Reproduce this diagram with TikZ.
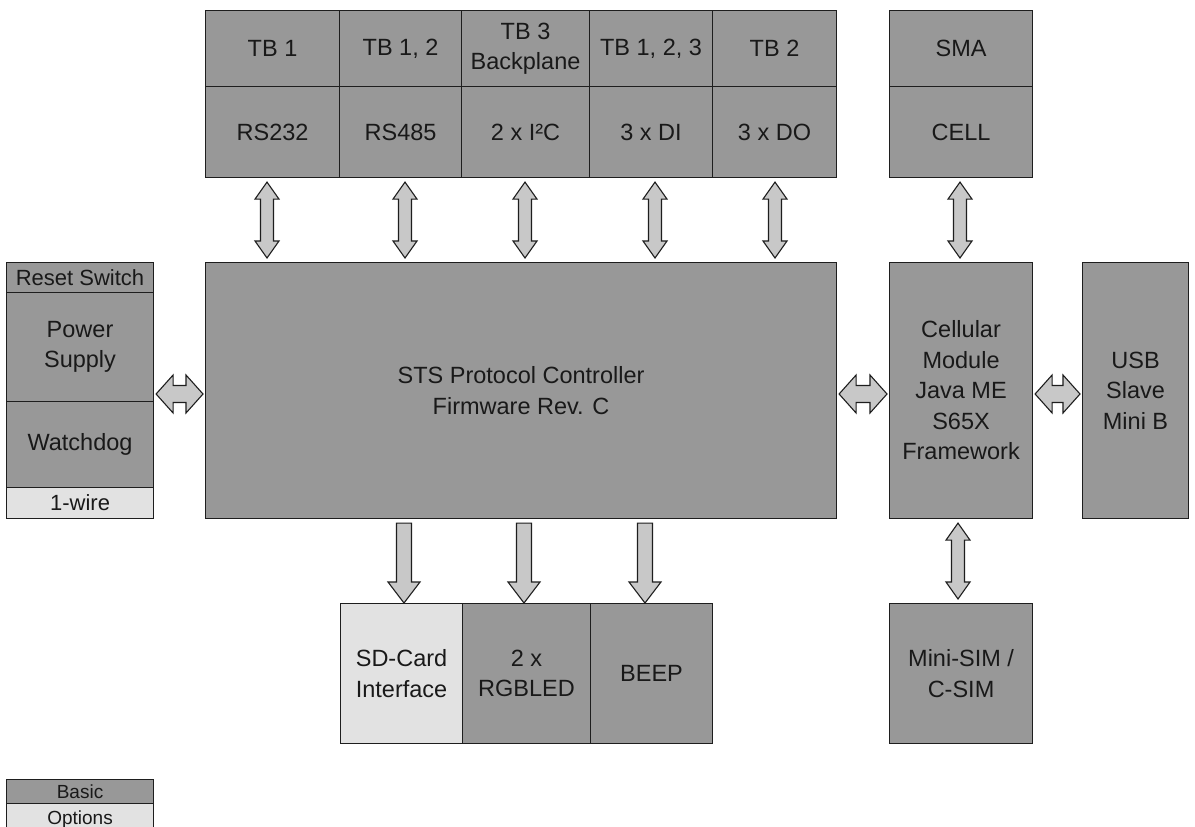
\documentclass[tikz,border=0pt]{standalone}
\usepackage{fontspec}
\setmainfont{Liberation Sans}
\usetikzlibrary{calc}
\definecolor{boxgray}{RGB}{152,152,152}
\definecolor{optgray}{RGB}{226,226,226}
\definecolor{arrowgray}{RGB}{200,200,200}
\definecolor{linegray}{RGB}{30,30,30}
\definecolor{textgray}{RGB}{25,25,25}
\tikzset{
 box/.style={draw=linegray, line width=1.1pt, fill=boxgray, inner sep=0pt, align=center, anchor=north west, text=textgray, font=\fontsize{23.5}{30.5}\selectfont},
 optbox/.style={box, fill=optgray},
 legbox/.style={font=\fontsize{19}{21}\selectfont},
 barrow/.style={draw=linegray, line width=1.1pt, fill=arrowgray, line join=miter},
}
\newcommand\vdarrow[3]{%
 \draw[barrow] let \p1=(#2), \p2=(#3), \p3=(#1,0) in
 (\x3,\y1-4pt) -- (\x3+12pt,\y1-21pt) -- (\x3+6.5pt,\y1-21pt) -- (\x3+6.5pt,\y2+21pt) -- (\x3+12pt,\y2+21pt) -- (\x3,\y2+4pt) -- (\x3-12pt,\y2+21pt) -- (\x3-6.5pt,\y2+21pt) -- (\x3-6.5pt,\y1-21pt) -- (\x3-12pt,\y1-21pt) -- cycle;}
\newcommand\hdarrow[3]{%
 \draw[barrow] let \p1=(#2), \p2=(#3), \p3=(0,#1) in
 (\x1+2pt,\y3) -- (\x1+19pt,\y3+19pt) -- (\x1+19pt,\y3+8.5pt) -- (\x2-19pt,\y3+8.5pt) -- (\x2-19pt,\y3+19pt) -- (\x2-2pt,\y3) -- (\x2-19pt,\y3-19pt) -- (\x2-19pt,\y3-8.5pt) -- (\x1+19pt,\y3-8.5pt) -- (\x1+19pt,\y3-19pt) -- cycle;}
\newcommand\sdarrow[3]{%
 \draw[barrow] let \p1=(#2), \p2=(#3), \p3=(#1,0) in
 (\x3-7.5pt,\y1-4pt) -- (\x3+7.5pt,\y1-4pt) -- (\x3+7.5pt,\y2+21pt) -- (\x3+16pt,\y2+21pt) -- (\x3,\y2) -- (\x3-16pt,\y2+21pt) -- (\x3-7.5pt,\y2+21pt) -- cycle;}
\begin{document}
\begin{tikzpicture}[x=1pt,y=-1pt]
\useasboundingbox[fill=white] (0,0) rectangle (1195,827);
% top table
\node[box, minimum width=134, minimum height=76] (tb1) at (205,10) {TB 1};
\node[box, minimum width=122, minimum height=76] (tb12) at (339,10) {TB 1, 2};
\node[box, minimum width=128, minimum height=76] (tb3) at (461,10) {TB 3\\Backplane};
\node[box, minimum width=123, minimum height=76] (tb123) at (589,10) {TB 1, 2, 3};
\node[box, minimum width=124, minimum height=76] (tb2) at (712,10) {TB 2};
\node[box, minimum width=134, minimum height=91] (rs232) at (205,86) {RS232};
\node[box, minimum width=122, minimum height=91] (rs485) at (339,86) {RS485};
\node[box, minimum width=128, minimum height=91] (i2c) at (461,86) {2 x I²C};
\node[box, minimum width=123, minimum height=91] (di) at (589,86) {3 x DI};
\node[box, minimum width=124, minimum height=91] (do) at (712,86) {3 x DO};
\node[box, minimum width=143, minimum height=76] (sma) at (889,10) {SMA};
\node[box, minimum width=143, minimum height=91] (cell) at (889,86) {CELL};
% middle
\node[box, minimum width=631, minimum height=256] (ctrl) at (205,262) {STS Protocol Controller\\Firmware Rev. C};
\node[box, font=\fontsize{22}{26}\selectfont, minimum width=147, minimum height=30] (reset) at (6,262) {Reset Switch};
\node[box, minimum width=147, minimum height=109] (power) at (6,292) {Power\\Supply};
\node[box, minimum width=147, minimum height=86] (watchdog) at (6,401) {Watchdog};
\node[optbox, font=\fontsize{22}{26}\selectfont, minimum width=147, minimum height=31] (onewire) at (6,487) {1-wire};
\node[box, minimum width=143, minimum height=256] (cellular) at (889,262) {Cellular\\Module\\Java ME\\S65X\\Framework};
\node[box, minimum width=106, minimum height=256] (usb) at (1082,262) {USB\\Slave\\Mini B};
% bottom
\node[optbox, minimum width=122, minimum height=140] (sd) at (340,603) {SD-Card\\Interface};
\node[box, minimum width=128, minimum height=140] (rgb) at (462,603) {2 x\\RGBLED};
\node[box, minimum width=122, minimum height=140] (beep) at (590,603) {BEEP};
\node[box, minimum width=143, minimum height=140] (sim) at (889,603) {Mini-SIM /\\C-SIM};
% legend
\node[box, legbox, minimum width=147, minimum height=24] (basic) at (6,779) {Basic};
\node[optbox, legbox, minimum width=147, minimum height=32] (options) at (6,803) {Options};
% arrows
\vdarrow{267}{rs232.south}{ctrl.north}
\vdarrow{405}{rs485.south}{ctrl.north}
\vdarrow{525}{i2c.south}{ctrl.north}
\vdarrow{655}{di.south}{ctrl.north}
\vdarrow{775}{do.south}{ctrl.north}
\vdarrow{960}{cell.south}{cellular.north}
\vdarrow{958}{cellular.south}{sim.north}
\hdarrow{394}{power.east}{ctrl.west}
\hdarrow{394}{ctrl.east}{cellular.west}
\hdarrow{394}{cellular.east}{usb.west}
\sdarrow{404}{ctrl.south}{sd.north}
\sdarrow{524}{ctrl.south}{rgb.north}
\sdarrow{645}{ctrl.south}{beep.north}
\end{tikzpicture}
\end{document}
